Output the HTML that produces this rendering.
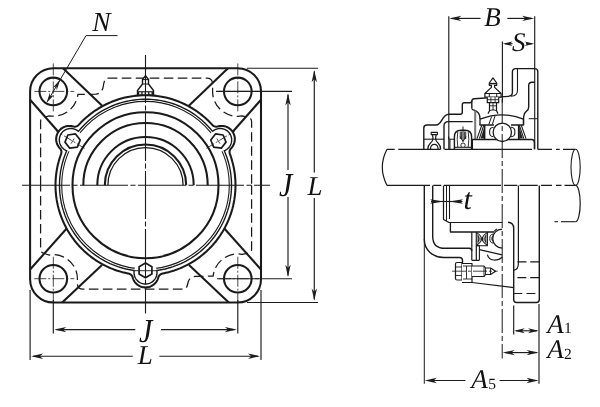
<!DOCTYPE html>
<html><head><meta charset="utf-8"><title>Flange unit drawing</title>
<style>
html,body{margin:0;padding:0;background:#fff;}
body{width:600px;height:407px;overflow:hidden;font-family:"Liberation Serif",serif;}
svg{display:block;will-change:transform;}
text{text-rendering:geometricPrecision;}
</style></head><body>
<svg width="600" height="407" viewBox="0 0 600 407">
<rect x="0" y="0" width="600" height="407" fill="#fff"/>
<rect x="30.1" y="68.2" width="230.9" height="234.3" rx="23.3" ry="23.3" fill="#fff" stroke="#1a1a1a" stroke-width="2.05"/>
<line x1="63" y1="68.2" x2="104" y2="107.5" stroke="#1a1a1a" stroke-width="2.05"/>
<line x1="30.1" y1="99.7" x2="62" y2="136" stroke="#1a1a1a" stroke-width="2.05"/>
<line x1="228" y1="68.2" x2="187" y2="107.5" stroke="#1a1a1a" stroke-width="2.05"/>
<line x1="261" y1="99.7" x2="229" y2="136" stroke="#1a1a1a" stroke-width="2.05"/>
<line x1="30.1" y1="269.5" x2="68" y2="227" stroke="#1a1a1a" stroke-width="2.05"/>
<line x1="62.2" y1="302.5" x2="102" y2="265" stroke="#1a1a1a" stroke-width="2.05"/>
<line x1="261" y1="269.5" x2="223" y2="227" stroke="#1a1a1a" stroke-width="2.05"/>
<line x1="228.8" y1="302.5" x2="189" y2="265" stroke="#1a1a1a" stroke-width="2.05"/>
<path d="M40.6,185.2 V121.5 Q40.6,117.9 44.5,117.3 L48.99,115.82 A24.8,24.8 0 0 0 77.92,94.42 L96,94.2 Q101,93.5 103,88 Q104,81 105,80 Q106,78.1 109,78.1 H207 Q212.4,78.1 212.6,84 V91.4 A24.8,24.8 0 0 0 242.11,115.82 L247.5,117.3 Q251.6,117.9 251.6,121.5 V185.2" fill="none" stroke="#1a1a1a" stroke-width="1.25" stroke-dasharray="9.6 4.4"/>
<path d="M251.6,185.2 V249.3 Q251.6,252.9 247.5,253.3 L242.11,254.28 A24.8,24.8 0 0 0 213.14,276.11 L195,276.4 Q190,277 188.3,281.5 Q187.2,286.6 186.3,287.6 Q185.3,289.2 182,289.2 H83 Q77.6,289.2 77.4,284 V278.7 A24.0,24.0 0 0 0 49.13,255.06 L44.5,253.5 Q40.6,252.9 40.6,249.3 V185.2" fill="none" stroke="#1a1a1a" stroke-width="1.25" stroke-dasharray="9.6 4.4"/>
<circle cx="53.3" cy="91.4" r="13.8" fill="none" stroke="#1a1a1a" stroke-width="2.05"/>
<line x1="33.3" y1="91.4" x2="74.3" y2="91.4" stroke="#1a1a1a" stroke-width="0.8" stroke-dasharray="12 2 2 2" stroke-dashoffset="-1"/>
<line x1="53.3" y1="63.400000000000006" x2="53.3" y2="113.4" stroke="#1a1a1a" stroke-width="0.8" stroke-dasharray="12 2 2 2"/>
<circle cx="53.3" cy="278.7" r="13.8" fill="none" stroke="#1a1a1a" stroke-width="2.05"/>
<line x1="33.3" y1="278.7" x2="74.3" y2="278.7" stroke="#1a1a1a" stroke-width="0.8" stroke-dasharray="12 2 2 2" stroke-dashoffset="-1"/>
<line x1="53.3" y1="256.7" x2="53.3" y2="302.7" stroke="#1a1a1a" stroke-width="0.8" stroke-dasharray="12 2 2 2"/>
<circle cx="237.8" cy="91.4" r="13.8" fill="none" stroke="#1a1a1a" stroke-width="2.05"/>
<line x1="217.8" y1="91.4" x2="258.8" y2="91.4" stroke="#1a1a1a" stroke-width="0.8" stroke-dasharray="12 2 2 2" stroke-dashoffset="-1"/>
<line x1="237.8" y1="63.400000000000006" x2="237.8" y2="113.4" stroke="#1a1a1a" stroke-width="0.8" stroke-dasharray="12 2 2 2"/>
<circle cx="237.8" cy="278.7" r="13.8" fill="none" stroke="#1a1a1a" stroke-width="2.05"/>
<line x1="217.8" y1="278.7" x2="258.8" y2="278.7" stroke="#1a1a1a" stroke-width="0.8" stroke-dasharray="12 2 2 2" stroke-dashoffset="-1"/>
<line x1="237.8" y1="256.7" x2="237.8" y2="302.7" stroke="#1a1a1a" stroke-width="0.8" stroke-dasharray="12 2 2 2"/>
<path d="M145.5,75.8 L148.5,79.5 V84 L153.5,90.5 V94.5 H137.5 V90.5 L142.5,84 V79.5 Z" fill="#fff" stroke="#1a1a1a" stroke-width="1.4" stroke-linejoin="round"/>
<rect x="137.5" y="91.2" width="16" height="4.6" fill="#1a1a1a"/>
<rect x="139.2" y="92.3" width="2.1" height="2.4" fill="#fff"/>
<rect x="142.6" y="92.3" width="2.1" height="2.4" fill="#fff"/>
<rect x="146" y="92.3" width="2.1" height="2.4" fill="#fff"/>
<rect x="149.4" y="92.3" width="2.1" height="2.4" fill="#fff"/>
<line x1="142.5" y1="84" x2="148.5" y2="84" stroke="#1a1a1a" stroke-width="1"/>
<line x1="142.5" y1="79.6" x2="148.5" y2="79.6" stroke="#1a1a1a" stroke-width="1"/>
<path d="M59.95,148.33 L60.42,148.91 L60.81,149.56 L61.11,150.25 L61.32,150.97 L61.42,151.72 L61.42,152.47 L61.31,153.22 L61.11,153.94 L60.29,156.23 L60.26,156.31 L59.39,159.03 L59.36,159.12 L58.58,161.86 L58.56,161.95 L57.86,164.72 L57.84,164.81 L57.24,167.6 L57.22,167.69 L56.71,170.5 L56.7,170.58 L56.28,173.41 L56.26,173.5 L55.94,176.33 L55.93,176.42 L55.7,179.27 L55.69,179.36 L55.55,182.21 L55.55,182.3 L55.5,185.16 L55.5,185.24 L55.55,188.1 L55.55,188.19 L55.69,191.04 L55.7,191.13 L55.93,193.98 L55.94,194.07 L56.26,196.9 L56.28,196.99 L56.7,199.82 L56.71,199.9 L57.22,202.71 L57.24,202.8 L57.84,205.59 L57.86,205.68 L58.56,208.45 L58.58,208.54 L59.36,211.28 L59.39,211.37 L60.26,214.09 L60.29,214.17 L61.25,216.86 L61.29,216.94 L62.33,219.6 L62.37,219.68 L63.5,222.3 L63.54,222.38 L64.76,224.97 L64.8,225.05 L66.11,227.59 L66.15,227.67 L67.54,230.16 L67.58,230.24 L69.05,232.69 L69.1,232.76 L70.64,235.16 L70.69,235.24 L72.32,237.59 L72.37,237.66 L74.07,239.95 L74.13,240.02 L75.9,242.26 L75.96,242.33 L77.81,244.51 L77.86,244.57 L79.78,246.69 L79.84,246.76 L81.83,248.81 L81.89,248.87 L83.94,250.86 L84.01,250.92 L86.13,252.84 L86.19,252.89 L88.37,254.74 L88.44,254.8 L90.68,256.57 L90.75,256.63 L93.04,258.33 L93.11,258.38 L95.46,260.01 L95.54,260.06 L97.94,261.6 L98.01,261.65 L100.46,263.12 L100.54,263.16 L103.03,264.55 L103.11,264.59 L105.65,265.9 L105.73,265.94 L108.32,267.16 L108.4,267.2 L111.02,268.33 L111.1,268.37 L113.76,269.41 L113.84,269.45 L116.53,270.41 L116.61,270.44 L119.33,271.31 L119.42,271.34 L122.16,272.12 L122.25,272.14 L125.02,272.84 L125.11,272.86 L127.9,273.46 L127.99,273.48 L128.41,273.55 L129.07,273.72 L129.72,273.97 L130.32,274.3 L130.89,274.7 L131.39,275.16 L131.84,275.69 L132.21,276.27 L132.51,276.89 L132.73,277.54 L132.78,277.7 L132.97,278.36 L133.03,278.53 L133.27,279.17 L133.34,279.33 L133.62,279.96 L133.7,280.12 L134.03,280.72 L134.12,280.88 L134.48,281.46 L134.58,281.61 L134.98,282.16 L135.08,282.31 L135.52,282.83 L135.64,282.97 L136.1,283.47 L136.23,283.6 L136.73,284.06 L136.87,284.18 L137.39,284.62 L137.54,284.72 L138.09,285.12 L138.24,285.22 L138.82,285.58 L138.98,285.67 L139.58,286 L139.74,286.08 L140.37,286.36 L140.53,286.43 L141.17,286.67 L141.34,286.73 L142,286.92 L142.17,286.97 L142.84,287.13 L143.01,287.16 L143.69,287.27 L143.87,287.3 L144.55,287.36 L144.73,287.37 L145.41,287.4 L145.59,287.4 L146.27,287.37 L146.45,287.36 L147.13,287.3 L147.31,287.27 L147.99,287.16 L148.16,287.13 L148.83,286.97 L149,286.92 L149.66,286.73 L149.83,286.67 L150.47,286.43 L150.63,286.36 L151.26,286.08 L151.42,286 L152.02,285.67 L152.18,285.58 L152.76,285.22 L152.91,285.12 L153.46,284.72 L153.61,284.62 L154.13,284.18 L154.27,284.06 L154.77,283.6 L154.9,283.47 L155.36,282.97 L155.48,282.83 L155.92,282.31 L156.02,282.16 L156.42,281.61 L156.52,281.46 L156.88,280.88 L156.97,280.72 L157.3,280.12 L157.38,279.96 L157.66,279.33 L157.73,279.17 L157.97,278.53 L158.03,278.36 L158.22,277.7 L158.27,277.54 L158.49,276.89 L158.79,276.27 L159.16,275.69 L159.61,275.16 L160.11,274.7 L160.68,274.3 L161.28,273.97 L161.93,273.72 L162.59,273.55 L163.01,273.48 L163.1,273.46 L165.89,272.86 L165.98,272.84 L168.75,272.14 L168.84,272.12 L171.58,271.34 L171.67,271.31 L174.39,270.44 L174.47,270.41 L177.16,269.45 L177.24,269.41 L179.9,268.37 L179.98,268.33 L182.6,267.2 L182.68,267.16 L185.27,265.94 L185.35,265.9 L187.89,264.59 L187.97,264.55 L190.46,263.16 L190.54,263.12 L192.99,261.65 L193.06,261.6 L195.46,260.06 L195.54,260.01 L197.89,258.38 L197.96,258.33 L200.25,256.63 L200.32,256.57 L202.56,254.8 L202.63,254.74 L204.81,252.89 L204.87,252.84 L206.99,250.92 L207.06,250.86 L209.11,248.87 L209.17,248.81 L211.16,246.76 L211.22,246.69 L213.14,244.57 L213.19,244.51 L215.04,242.33 L215.1,242.26 L216.87,240.02 L216.93,239.95 L218.63,237.66 L218.68,237.59 L220.31,235.24 L220.36,235.16 L221.9,232.76 L221.95,232.69 L223.42,230.24 L223.46,230.16 L224.85,227.67 L224.89,227.59 L226.2,225.05 L226.24,224.97 L227.46,222.38 L227.5,222.3 L228.63,219.68 L228.67,219.6 L229.71,216.94 L229.75,216.86 L230.71,214.17 L230.74,214.09 L231.61,211.37 L231.64,211.28 L232.42,208.54 L232.44,208.45 L233.14,205.68 L233.16,205.59 L233.76,202.8 L233.78,202.71 L234.29,199.9 L234.3,199.82 L234.72,196.99 L234.74,196.9 L235.06,194.07 L235.07,193.98 L235.3,191.13 L235.31,191.04 L235.45,188.19 L235.45,188.1 L235.5,185.24 L235.5,185.16 L235.45,182.3 L235.45,182.21 L235.31,179.36 L235.3,179.27 L235.07,176.42 L235.06,176.33 L234.74,173.5 L234.72,173.41 L234.3,170.58 L234.29,170.5 L233.78,167.69 L233.76,167.6 L233.16,164.81 L233.14,164.72 L232.44,161.95 L232.42,161.86 L231.64,159.12 L231.61,159.03 L230.74,156.31 L230.71,156.23 L229.89,153.94 L229.69,153.22 L229.58,152.47 L229.58,151.72 L229.68,150.97 L229.89,150.25 L230.19,149.56 L230.58,148.91 L231.05,148.33 L231.49,147.86 L231.61,147.73 L232.04,147.2 L232.15,147.06 L232.55,146.5 L232.65,146.35 L233.01,145.77 L233.1,145.62 L233.42,145.01 L233.5,144.85 L233.79,144.23 L233.85,144.06 L234.1,143.42 L234.15,143.25 L234.35,142.6 L234.4,142.42 L234.55,141.76 L234.59,141.58 L234.7,140.91 L234.72,140.73 L234.79,140.05 L234.8,139.87 L234.82,139.19 L234.82,139.01 L234.8,138.32 L234.79,138.14 L234.72,137.46 L234.7,137.28 L234.59,136.61 L234.55,136.43 L234.4,135.77 L234.35,135.59 L234.15,134.94 L234.1,134.77 L233.85,134.13 L233.79,133.96 L233.5,133.34 L233.42,133.18 L233.1,132.57 L233.01,132.42 L232.65,131.84 L232.55,131.69 L232.15,131.13 L232.04,130.99 L231.61,130.46 L231.49,130.33 L231.02,129.83 L230.9,129.7 L230.4,129.23 L230.26,129.11 L229.73,128.68 L229.59,128.57 L229.03,128.17 L228.88,128.07 L228.3,127.71 L228.15,127.62 L227.55,127.3 L227.38,127.22 L226.76,126.94 L226.59,126.87 L225.95,126.63 L225.78,126.57 L225.13,126.37 L224.96,126.32 L224.29,126.17 L224.11,126.13 L223.44,126.02 L223.26,126 L222.58,125.93 L222.4,125.92 L221.72,125.9 L221.54,125.9 L220.85,125.92 L220.67,125.93 L219.99,126 L219.82,126.02 L219.14,126.13 L218.96,126.17 L218.3,126.32 L218.12,126.37 L217.93,126.43 L217.26,126.59 L216.58,126.66 L215.89,126.65 L215.2,126.55 L214.54,126.37 L213.9,126.1 L213.31,125.76 L212.75,125.34 L212.26,124.86 L211.22,123.71 L211.16,123.64 L209.17,121.59 L209.11,121.53 L207.06,119.54 L206.99,119.48 L204.87,117.56 L204.81,117.51 L202.63,115.66 L202.56,115.6 L200.32,113.83 L200.25,113.77 L197.96,112.07 L197.89,112.02 L195.54,110.39 L195.46,110.34 L193.06,108.8 L192.99,108.75 L190.54,107.28 L190.46,107.24 L187.97,105.85 L187.89,105.81 L185.35,104.5 L185.27,104.46 L182.68,103.24 L182.6,103.2 L179.98,102.07 L179.9,102.03 L177.24,100.99 L177.16,100.95 L174.47,99.99 L174.39,99.96 L171.67,99.09 L171.58,99.06 L168.84,98.28 L168.75,98.26 L165.98,97.56 L165.89,97.54 L163.1,96.94 L163.01,96.92 L160.2,96.41 L160.12,96.4 L157.29,95.98 L157.2,95.96 L154.37,95.64 L154.28,95.63 L151.43,95.4 L151.34,95.39 L148.49,95.25 L148.4,95.25 L145.54,95.2 L145.46,95.2 L142.6,95.25 L142.51,95.25 L139.66,95.39 L139.57,95.4 L136.72,95.63 L136.63,95.64 L133.8,95.96 L133.71,95.98 L130.88,96.4 L130.8,96.41 L127.99,96.92 L127.9,96.94 L125.11,97.54 L125.02,97.56 L122.25,98.26 L122.16,98.28 L119.42,99.06 L119.33,99.09 L116.61,99.96 L116.53,99.99 L113.84,100.95 L113.76,100.99 L111.1,102.03 L111.02,102.07 L108.4,103.2 L108.32,103.24 L105.73,104.46 L105.65,104.5 L103.11,105.81 L103.03,105.85 L100.54,107.24 L100.46,107.28 L98.01,108.75 L97.94,108.8 L95.54,110.34 L95.46,110.39 L93.11,112.02 L93.04,112.07 L90.75,113.77 L90.68,113.83 L88.44,115.6 L88.37,115.66 L86.19,117.51 L86.13,117.56 L84.01,119.48 L83.94,119.54 L81.89,121.53 L81.83,121.59 L79.84,123.64 L79.78,123.71 L78.74,124.86 L78.25,125.34 L77.69,125.76 L77.1,126.1 L76.46,126.37 L75.8,126.55 L75.11,126.65 L74.42,126.66 L73.74,126.59 L73.07,126.43 L72.88,126.37 L72.7,126.32 L72.04,126.17 L71.86,126.13 L71.18,126.02 L71.01,126 L70.33,125.93 L70.15,125.92 L69.46,125.9 L69.28,125.9 L68.6,125.92 L68.42,125.93 L67.74,126 L67.56,126.02 L66.89,126.13 L66.71,126.17 L66.04,126.32 L65.87,126.37 L65.22,126.57 L65.05,126.63 L64.41,126.87 L64.24,126.94 L63.62,127.22 L63.45,127.3 L62.85,127.62 L62.7,127.71 L62.12,128.07 L61.97,128.17 L61.41,128.57 L61.27,128.68 L60.74,129.11 L60.6,129.23 L60.1,129.7 L59.98,129.83 L59.51,130.33 L59.39,130.46 L58.96,130.99 L58.85,131.13 L58.45,131.69 L58.35,131.84 L57.99,132.42 L57.9,132.57 L57.58,133.18 L57.5,133.34 L57.21,133.96 L57.15,134.13 L56.9,134.77 L56.85,134.94 L56.65,135.59 L56.6,135.77 L56.45,136.43 L56.41,136.61 L56.3,137.28 L56.28,137.46 L56.21,138.14 L56.2,138.32 L56.18,139.01 L56.18,139.19 L56.2,139.87 L56.21,140.05 L56.28,140.73 L56.3,140.91 L56.41,141.58 L56.45,141.76 L56.6,142.42 L56.65,142.6 L56.85,143.25 L56.9,143.42 L57.15,144.06 L57.21,144.23 L57.5,144.85 L57.58,145.01 L57.9,145.62 L57.99,145.77 L58.35,146.35 L58.45,146.5 L58.85,147.06 L58.96,147.2 L59.39,147.73 L59.51,147.86 L59.95,148.33Z" fill="#fff" stroke="#1a1a1a" stroke-width="2.05" stroke-linejoin="round"/>
<circle cx="145.5" cy="185.2" r="83.8" fill="none" stroke="#1a1a1a" stroke-width="1.1"/>
<circle cx="145.5" cy="272.5" r="11.5" fill="#fff"/>
<circle cx="70.83" cy="139.98" r="11.5" fill="#fff"/>
<circle cx="220.17" cy="139.98" r="11.5" fill="#fff"/>
<path d="M78.41,131.33 L77.83,130.85 L77.22,130.41 L76.58,130.02 L75.91,129.66 L75.23,129.35 L74.52,129.09 L73.8,128.87 L73.07,128.7 L72.33,128.57 L71.58,128.5 L70.83,128.48 L70.07,128.5 L69.33,128.57 L68.58,128.7 L67.85,128.87 L67.13,129.09 L66.43,129.35 L65.74,129.66 L65.08,130.02 L64.44,130.41 L63.83,130.85 L63.24,131.33 L62.69,131.84 L62.18,132.39 L61.7,132.98 L61.26,133.59 L60.87,134.23 L60.51,134.89 L60.2,135.58 L59.94,136.28 L59.72,137 L59.55,137.73 L59.43,138.48 L59.35,139.22 L59.33,139.98 L59.35,140.73 L59.43,141.48 L59.55,142.22 L59.72,142.95 L59.94,143.67 L60.2,144.38 L60.51,145.06 L60.87,145.73 L61.26,146.37 L61.7,146.98 L62.18,147.56 L62.69,148.11 L63.24,148.62 L63.83,149.1 L64.44,149.54 L65.08,149.94 L65.74,150.29 L66.43,150.6 L66.73,150.71 L66.05,152.29 L65.01,154.91 L64.06,157.56 L63.2,160.24 L62.43,162.94 L61.75,165.67 L61.15,168.42 L60.65,171.19 L60.24,173.97 L59.91,176.77 L59.68,179.58 L59.55,182.39 L59.5,185.2 L59.55,188.01 L59.68,190.82 L59.91,193.63 L60.24,196.43 L60.65,199.21 L61.15,201.98 L61.75,204.73 L62.43,207.46 L63.2,210.16 L64.06,212.84 L65.01,215.49 L66.05,218.11 L67.17,220.69 L68.37,223.24 L69.65,225.74 L71.02,228.2 L72.47,230.61 L73.99,232.98 L75.6,235.29 L77.27,237.55 L79.02,239.76 L80.84,241.9 L82.73,243.99 L84.69,246.01 L86.71,247.97 L88.8,249.86 L90.94,251.68 L93.15,253.43 L95.41,255.1 L97.72,256.71 L100.09,258.23 L102.5,259.68 L104.96,261.05 L107.46,262.33 L110.01,263.53 L112.59,264.65 L115.21,265.69 L117.86,266.64 L120.54,267.5 L123.24,268.27 L125.97,268.95 L128.72,269.55 L131.49,270.05 L134.19,270.45 L134.1,271 L134.02,271.75 L134,272.5 L134.02,273.25 L134.1,274 L134.22,274.74 L134.39,275.48 L134.61,276.2 L134.88,276.9 L135.19,277.59 L135.54,278.25 L135.94,278.89 L136.38,279.5 L136.85,280.08 L137.37,280.63 L137.92,281.15 L138.5,281.62 L139.11,282.06 L139.75,282.46 L140.41,282.81 L141.1,283.12 L141.8,283.39 L142.52,283.61 L143.26,283.78 L144,283.9 L144.75,283.98 L145.5,284 L146.25,283.98 L147,283.9 L147.74,283.78 L148.48,283.61 L149.2,283.39 L149.9,283.12 L150.59,282.81 L151.25,282.46 L151.89,282.06 L152.5,281.62 L153.08,281.15 L153.63,280.63 L154.15,280.08 L154.62,279.5 L155.06,278.89 L155.46,278.25 L155.81,277.59 L156.12,276.9 L156.39,276.2 L156.61,275.48 L156.78,274.74 L156.9,274 L156.98,273.25 L157,272.5 L156.98,271.75 L156.9,271 L156.81,270.45 L159.51,270.05 L162.28,269.55 L165.03,268.95 L167.76,268.27 L170.46,267.5 L173.14,266.64 L175.79,265.69 L178.41,264.65 L180.99,263.53 L183.54,262.33 L186.04,261.05 L188.5,259.68 L190.91,258.23 L193.28,256.71 L195.59,255.1 L197.85,253.43 L200.06,251.68 L202.2,249.86 L204.29,247.97 L206.31,246.01 L208.27,243.99 L210.16,241.9 L211.98,239.76 L213.73,237.55 L215.4,235.29 L217.01,232.98 L218.53,230.61 L219.98,228.2 L221.35,225.74 L222.63,223.24 L223.83,220.69 L224.95,218.11 L225.99,215.49 L226.94,212.84 L227.8,210.16 L228.57,207.46 L229.25,204.73 L229.85,201.98 L230.35,199.21 L230.76,196.43 L231.09,193.63 L231.32,190.82 L231.45,188.01 L231.5,185.2 L231.45,182.39 L231.32,179.58 L231.09,176.77 L230.76,173.97 L230.35,171.19 L229.85,168.42 L229.25,165.67 L228.57,162.94 L227.8,160.24 L226.94,157.56 L225.99,154.91 L224.95,152.29 L224.27,150.71 L224.57,150.6 L225.26,150.29 L225.92,149.94 L226.56,149.54 L227.17,149.1 L227.76,148.62 L228.31,148.11 L228.82,147.56 L229.3,146.98 L229.74,146.37 L230.13,145.73 L230.49,145.06 L230.8,144.38 L231.06,143.67 L231.28,142.95 L231.45,142.22 L231.57,141.48 L231.65,140.73 L231.67,139.98 L231.65,139.22 L231.57,138.48 L231.45,137.73 L231.28,137 L231.06,136.28 L230.8,135.58 L230.49,134.89 L230.13,134.23 L229.74,133.59 L229.3,132.98 L228.82,132.39 L228.31,131.84 L227.76,131.33 L227.17,130.85 L226.56,130.41 L225.92,130.02 L225.26,129.66 L224.57,129.35 L223.87,129.09 L223.15,128.87 L222.42,128.7 L221.67,128.57 L220.93,128.5 L220.17,128.48 L219.42,128.5 L218.67,128.57 L217.93,128.7 L217.2,128.87 L216.48,129.09 L215.77,129.35 L215.09,129.66 L214.42,130.02 L213.78,130.41 L213.17,130.85 L212.59,131.33 L212.55,131.37 L211.98,130.64 L210.16,128.5 L208.27,126.41 L206.31,124.39 L204.29,122.43 L202.2,120.54 L200.06,118.72 L197.85,116.97 L195.59,115.3 L193.28,113.69 L190.91,112.17 L188.5,110.72 L186.04,109.35 L183.54,108.07 L180.99,106.87 L178.41,105.75 L175.79,104.71 L173.14,103.76 L170.46,102.9 L167.76,102.13 L165.03,101.45 L162.28,100.85 L159.51,100.35 L156.73,99.94 L153.93,99.61 L151.12,99.38 L148.31,99.25 L145.5,99.2 L142.69,99.25 L139.88,99.38 L137.07,99.61 L134.27,99.94 L131.49,100.35 L128.72,100.85 L125.97,101.45 L123.24,102.13 L120.54,102.9 L117.86,103.76 L115.21,104.71 L112.59,105.75 L110.01,106.87 L107.46,108.07 L104.96,109.35 L102.5,110.72 L100.09,112.17 L97.72,113.69 L95.41,115.3 L93.15,116.97 L90.94,118.72 L88.8,120.54 L86.71,122.43 L84.69,124.39 L82.73,126.41 L80.84,128.5 L79.02,130.64 L78.45,131.37 L78.41,131.33Z" fill="none" stroke="#1a1a1a" stroke-width="1.4" stroke-linejoin="round"/>
<circle cx="145.5" cy="185.2" r="73.0" fill="none" stroke="#1a1a1a" stroke-width="2.05"/>
<path d="M83.3,185.2 A62.2,62.2 0 0 1 207.7,185.2" fill="none" stroke="#1a1a1a" stroke-width="2.05"/>
<path d="M97.3,185.2 A48.2,48.2 0 0 1 193.7,185.2" fill="none" stroke="#1a1a1a" stroke-width="2.05"/>
<path d="M104.8,185.2 A40.7,40.7 0 0 1 186.2,185.2" fill="none" stroke="#1a1a1a" stroke-width="2.05"/>
<path d="M107.9,185.2 A37.6,37.6 0 0 1 183.1,185.2" fill="none" stroke="#1a1a1a" stroke-width="1.3"/>
<polygon points="145.5,277.8 139.09,274.1 139.09,266.7 145.5,263 151.91,266.7 151.91,274.1" fill="#fff" stroke="#1a1a1a" stroke-width="1.7" stroke-linejoin="round"/>
<line x1="132.9" y1="270.7" x2="158.1" y2="270.7" stroke="#1a1a1a" stroke-width="0.9"/>
<polygon points="77.36,147.13 69.74,148.2 65,142.14 67.88,135 75.51,133.92 80.25,139.99" fill="#fff" stroke="#1a1a1a" stroke-width="1.7" stroke-linejoin="round"/>
<line x1="84.6" y1="148.32" x2="56.37" y2="131.22" stroke="#1a1a1a" stroke-width="0.8" stroke-dasharray="9 2 2 2"/>
<line x1="71.07" y1="143.63" x2="74.18" y2="138.5" stroke="#1a1a1a" stroke-width="0.8"/>
<polygon points="213.64,147.13 210.75,139.99 215.49,133.92 223.12,135 226,142.14 221.26,148.2" fill="#fff" stroke="#1a1a1a" stroke-width="1.7" stroke-linejoin="round"/>
<line x1="206.4" y1="148.32" x2="234.63" y2="131.22" stroke="#1a1a1a" stroke-width="0.8" stroke-dasharray="9 2 2 2"/>
<line x1="216.82" y1="138.5" x2="219.93" y2="143.63" stroke="#1a1a1a" stroke-width="0.8"/>
<line x1="22" y1="185.2" x2="270" y2="185.2" stroke="#1a1a1a" stroke-width="1.1" stroke-dasharray="48 2.5 5 2.5" stroke-dashoffset="0"/>
<line x1="145.5" y1="55" x2="145.5" y2="313.5" stroke="#1a1a1a" stroke-width="1.1" stroke-dasharray="48 2.5 5 2.5" stroke-dashoffset="0"/>
<line x1="247" y1="68.2" x2="318" y2="68.2" stroke="#1c1c1c" stroke-width="1.15" />
<line x1="216" y1="91.4" x2="292" y2="91.4" stroke="#1c1c1c" stroke-width="1.15" />
<line x1="217" y1="278.7" x2="292" y2="278.7" stroke="#1c1c1c" stroke-width="1.15" />
<line x1="247" y1="302.5" x2="318" y2="302.5" stroke="#1c1c1c" stroke-width="1.15" />
<line x1="288" y1="94.4" x2="288" y2="170" stroke="#1c1c1c" stroke-width="1.15" />
<line x1="288" y1="197" x2="288" y2="275.7" stroke="#1c1c1c" stroke-width="1.15" />
<polygon points="288,93.4 290.7,105.4 288,102.2 285.3,105.4" fill="#1c1c1c"/>
<polygon points="288,276.7 285.3,264.7 288,267.9 290.7,264.7" fill="#1c1c1c"/>
<line x1="314.3" y1="71.2" x2="314.3" y2="172.5" stroke="#1c1c1c" stroke-width="1.15" />
<line x1="314.3" y1="198" x2="314.3" y2="299.5" stroke="#1c1c1c" stroke-width="1.15" />
<polygon points="314.3,70.2 317,82.2 314.3,79 311.6,82.2" fill="#1c1c1c"/>
<polygon points="314.3,300.5 311.6,288.5 314.3,291.7 317,288.5" fill="#1c1c1c"/>
<text x="0" y="0" transform="translate(279 196.3) scale(1 1.12)" font-family="Liberation Serif, serif" font-style="italic" font-size="30" text-anchor="start" fill="#111" >J</text>
<text x="0" y="0" transform="translate(307.5 195.2) scale(1 1.0)" font-family="Liberation Serif, serif" font-style="italic" font-size="27" text-anchor="start" fill="#111" >L</text>
<line x1="30.1" y1="290" x2="30.1" y2="360" stroke="#1c1c1c" stroke-width="1.15" />
<line x1="261" y1="290" x2="261" y2="360" stroke="#1c1c1c" stroke-width="1.15" />
<line x1="53.3" y1="300" x2="53.3" y2="333.5" stroke="#1c1c1c" stroke-width="1.15" />
<line x1="237.8" y1="300" x2="237.8" y2="333.5" stroke="#1c1c1c" stroke-width="1.15" />
<line x1="56.3" y1="329.6" x2="135.3" y2="329.6" stroke="#1c1c1c" stroke-width="1.15" />
<line x1="161" y1="329.6" x2="234.8" y2="329.6" stroke="#1c1c1c" stroke-width="1.15" />
<polygon points="54.3,329.6 66.3,326.9 63.1,329.6 66.3,332.3" fill="#1c1c1c"/>
<polygon points="236.8,329.6 224.8,332.3 228,329.6 224.8,326.9" fill="#1c1c1c"/>
<line x1="33.1" y1="356.2" x2="132.7" y2="356.2" stroke="#1c1c1c" stroke-width="1.15" />
<line x1="159.4" y1="356.2" x2="258" y2="356.2" stroke="#1c1c1c" stroke-width="1.15" />
<polygon points="31.1,356.2 43.1,353.5 39.9,356.2 43.1,358.9" fill="#1c1c1c"/>
<polygon points="260,356.2 248,358.9 251.2,356.2 248,353.5" fill="#1c1c1c"/>
<text x="0" y="0" transform="translate(139 341.9) scale(1 1.12)" font-family="Liberation Serif, serif" font-style="italic" font-size="30" text-anchor="start" fill="#111" >J</text>
<text x="0" y="0" transform="translate(137.8 363.5) scale(1 1.0)" font-family="Liberation Serif, serif" font-style="italic" font-size="27" text-anchor="start" fill="#111" >L</text>
<text x="0" y="0" transform="translate(92.3 31) scale(1 1.0)" font-family="Liberation Serif, serif" font-style="italic" font-size="27.5" text-anchor="start" fill="#111" >N</text>
<line x1="86" y1="35.6" x2="117.5" y2="35.6" stroke="#1c1c1c" stroke-width="1.0" />
<line x1="86" y1="35.6" x2="48.35" y2="99.86" stroke="#1c1c1c" stroke-width="1.0" />
<polygon points="46.32,103.31 49.9,92.65 50.27,96.58 53.87,94.98" fill="#1c1c1c"/>
<polygon points="60.28,79.49 56.7,90.15 56.33,86.22 52.73,87.82" fill="#1c1c1c"/>
<line x1="448.8" y1="16.2" x2="448.8" y2="149.3" stroke="#1c1c1c" stroke-width="1.15" />
<line x1="534.7" y1="16.2" x2="534.7" y2="149.3" stroke="#1c1c1c" stroke-width="1.15" />
<line x1="502.4" y1="41.5" x2="502.4" y2="102.7" stroke="#1c1c1c" stroke-width="1.15" />
<path d="M423.8,149.3 V128 Q423.8,125 427,125 H436 C442.5,125 441.5,114.2 449,114.2 H460.3 Q462.3,114.2 462.3,112.2 V104.7 Q462.3,102.7 464.3,102.7 H469.8 Q471.8,102.7 471.8,101" fill="none" stroke="#1a1a1a" stroke-width="1.4" stroke-linejoin="round" stroke-linecap="butt" />
<path d="M444,149.3 V126 Q444,121.6 448.5,121.6 H472.6" fill="none" stroke="#1a1a1a" stroke-width="1.4" stroke-linejoin="round" stroke-linecap="butt" />
<path d="M423.8,139.2 H444" fill="none" stroke="#1a1a1a" stroke-width="1.1" stroke-linejoin="round" stroke-linecap="butt" />
<path d="M431.2,132.4 H437.4 V134.6 H431.2 Z" fill="#fff" stroke="#1a1a1a" stroke-width="1.1" stroke-linejoin="round" stroke-linecap="butt" />
<path d="M432.4,134.6 L433,138.2 Q433,141 430.5,143 Q427.8,145.5 427.8,149.3 M436.2,134.6 L435.6,138.2 Q435.6,141 438,143 Q440.6,145.5 440.6,149.3" fill="none" stroke="#1a1a1a" stroke-width="1.21" stroke-linejoin="round" stroke-linecap="butt" />
<path d="M430.4,149.3 Q430.6,144.3 434.3,144.3 Q438,144.3 438.2,149.3" fill="none" stroke="#1a1a1a" stroke-width="1.21" stroke-linejoin="round" stroke-linecap="butt" />
<path d="M448.6,136.5 V138 Q448.6,139.3 450.5,139.3 H454.4 M449.9,139.3 V149.3" fill="none" stroke="#1a1a1a" stroke-width="1.1" stroke-linejoin="round" stroke-linecap="butt" />
<path d="M454.4,149.3 V137 Q454.4,130.3 461,130.3 H465 Q471.6,130.3 471.6,137 V149.3" fill="#fff" stroke="#1a1a1a" stroke-width="1.43" stroke-linejoin="round" stroke-linecap="butt" />
<path d="M454.3,147.3 H471.8" fill="none" stroke="#1a1a1a" stroke-width="1.1" stroke-linejoin="round" stroke-linecap="butt" />
<path d="M457.8,131.6 Q456.6,139 457.8,147.3 M468.2,131.6 Q469.4,139 468.2,147.3" fill="none" stroke="#1a1a1a" stroke-width="0.88" stroke-linejoin="round" stroke-linecap="butt" />
<path d="M460.3,131.5 V139" fill="none" stroke="#1a1a1a" stroke-width="0.88" stroke-linejoin="round" stroke-linecap="butt" />
<path d="M461.6,131.5 V139" fill="none" stroke="#1a1a1a" stroke-width="0.88" stroke-linejoin="round" stroke-linecap="butt" />
<path d="M464.4,131.5 V139" fill="none" stroke="#1a1a1a" stroke-width="0.88" stroke-linejoin="round" stroke-linecap="butt" />
<path d="M465.7,131.5 V139" fill="none" stroke="#1a1a1a" stroke-width="0.88" stroke-linejoin="round" stroke-linecap="butt" />
<path d="M463,126.5 V141.5" fill="none" stroke="#1a1a1a" stroke-width="0.99" stroke-linejoin="round" stroke-linecap="butt" />
<path d="M460,136.5 L463,141.5 L466,136.5" fill="none" stroke="#1a1a1a" stroke-width="0.99" stroke-linejoin="round" stroke-linecap="butt" />
<circle cx="463" cy="145.2" r="2.2" fill="#fff" stroke="#1a1a1a" stroke-width="0.9"/>
<path d="M471.8,108.5 V101.3 Q471.8,99 474.3,98.8 L508.3,96.4 Q512.4,96.1 512.4,92.3 V72 Q512.4,68.6 515.8,68.6 H534.8 Q537.8,68.6 537.8,71.6 V149.3" fill="none" stroke="#1a1a1a" stroke-width="1.4" stroke-linejoin="round" stroke-linecap="butt" />
<path d="M517.5,68.6 V90.3 Q517.5,96.2 511,96.3" fill="none" stroke="#1a1a1a" stroke-width="1.1" stroke-linejoin="round" stroke-linecap="butt" />
<path d="M471.8,108.5 Q472,109.8 474.5,110.3 Q479,112 479.7,116 L480,119.2" fill="none" stroke="#1a1a1a" stroke-width="1.4" stroke-linejoin="round" stroke-linecap="butt" />
<path d="M534.7,82.3 H532 Q528.7,82.3 528.7,85.5 V107 Q528.7,110 526.3,111.3 Q523.7,113 523.5,119.2" fill="none" stroke="#1a1a1a" stroke-width="1.4" stroke-linejoin="round" stroke-linecap="butt" />
<path d="M528.7,118.7 H537.8" fill="none" stroke="#1a1a1a" stroke-width="0.99" stroke-linejoin="round" stroke-linecap="butt" />
<line x1="475.2" y1="110.6" x2="475.2" y2="139" stroke="#777" stroke-width="2"/>
<path d="M480,119.2 Q502.3,110.4 523.5,119.2 V125 H511 M493.5,125 H480 Z" fill="none" stroke="#1a1a1a" stroke-width="1.32" stroke-linejoin="round" stroke-linecap="butt" />
<path d="M480,119.2 V125 M523.5,119.2 V125" fill="none" stroke="#1a1a1a" stroke-width="1.32" stroke-linejoin="round" stroke-linecap="butt" />
<path d="M488.8,124.6 L491.6,116.6 M492.3,124.6 L495,116" fill="none" stroke="#1a1a1a" stroke-width="0.99" stroke-linejoin="round" stroke-linecap="butt" />
<path d="M472.3,149.3 V139.5 H531.5 Q534.4,139.5 534.4,142.5 V149.3" fill="#fff" stroke="#1a1a1a" stroke-width="1.43" stroke-linejoin="round" stroke-linecap="butt" />
<path d="M477,138.6 L481.8,125.2 M479.4,138.6 L483.8,125.2" fill="none" stroke="#1a1a1a" stroke-width="1.1" stroke-linejoin="round" stroke-linecap="butt" />
<line x1="484.6" y1="125" x2="484.6" y2="139" stroke="#1a1a1a" stroke-width="1.6"/>
<polygon points="480.6,138.6 484,128 484,138.6" fill="#222"/>
<path d="M526,138.6 L521.3,125.2 M523.8,138.6 L519.4,125.4" fill="none" stroke="#1a1a1a" stroke-width="1.1" stroke-linejoin="round" stroke-linecap="butt" />
<line x1="518.8" y1="125" x2="518.8" y2="139" stroke="#1a1a1a" stroke-width="1.8"/>
<polygon points="522.8,138.6 519.4,127 519.4,138.6" fill="#222"/>
<path d="M493.5,127.3 Q489.3,127.5 489.6,132 Q489.3,136.6 493.5,136.8" fill="none" stroke="#1a1a1a" stroke-width="1.1" stroke-linejoin="round" stroke-linecap="butt" />
<path d="M511,127.3 Q515.2,127.5 514.9,132 Q515.2,136.6 511,136.8" fill="none" stroke="#1a1a1a" stroke-width="1.1" stroke-linejoin="round" stroke-linecap="butt" />
<circle cx="502.3" cy="132.3" r="9.2" fill="#fff" stroke="#1a1a1a" stroke-width="1.3"/>
<path d="M493.0,77.9 L496.7,83 V85.3 H494.6 V87.4 L501.1,93.5 V97.2 H484.9 V93.5 L491.4,87.4 V85.3 H489.3 V83 Z" fill="#fff" stroke="#1a1a1a" stroke-width="1.21" stroke-linejoin="round" stroke-linecap="butt" />
<path d="M489.3,83.6 H496.7" fill="none" stroke="#1a1a1a" stroke-width="1.43" stroke-linejoin="round" stroke-linecap="butt" />
<path d="M484.9,93.5 H501.1 M489.3,93.5 V97.2 M496.7,93.5 V97.2" fill="none" stroke="#1a1a1a" stroke-width="0.99" stroke-linejoin="round" stroke-linecap="butt" />
<path d="M487.3,97.2 V102.7 H498.7 V97.2" fill="#fff" stroke="#1a1a1a" stroke-width="1.21" stroke-linejoin="round" stroke-linecap="butt" />
<path d="M487.3,99.7 H498.7 M490.9,97.2 V102.7 M495.1,97.2 V102.7" fill="none" stroke="#1a1a1a" stroke-width="0.88" stroke-linejoin="round" stroke-linecap="butt" />
<path d="M489.5,102.7 V110.7 L488.0,113.6 M496.5,102.7 V110.7 L498.0,113.6" fill="none" stroke="#1a1a1a" stroke-width="1.21" stroke-linejoin="round" stroke-linecap="butt" />
<path d="M489.5,105.8 H496.5 M493.0,102.7 V110.7 M489.5,110.7 Q493.0,108.6 496.5,110.7" fill="none" stroke="#1a1a1a" stroke-width="0.88" stroke-linejoin="round" stroke-linecap="butt" />
<path d="M387,149.3 Q377.6,167.35000000000002 387,185.4" fill="none" stroke="#1a1a1a" stroke-width="1.21" stroke-linejoin="round" stroke-linecap="butt" />
<path d="M387,149.3 H394.7 M398.3,149.3 H440.7 M444.5,149.3 H532 M537.7,149.3 H552 M556,149.3 H559.7 M563,149.3 H575" fill="none" stroke="#1a1a1a" stroke-width="1.32" stroke-linejoin="round" stroke-linecap="butt" />
<path d="M387,185.4 H430 M433.2,185.4 H441.3 M444,185.4 H501 M504,185.4 H517.3 M519.5,185.4 H537.7 M541,185.4 H552 M556,185.4 H561.5 M564.5,185.4 H575" fill="none" stroke="#1a1a1a" stroke-width="1.32" stroke-linejoin="round" stroke-linecap="butt" />
<ellipse cx="575.6" cy="167.35000000000002" rx="4.6" ry="18.049999999999997" fill="none" stroke="#1a1a1a" stroke-width="1.1"/>
<path d="M575.6,185.4 A4.6,18.14999999999999 0 0 1 575.6,221.7" fill="none" stroke="#1a1a1a" stroke-width="1.21" stroke-linejoin="round" stroke-linecap="butt" />
<line x1="554.5" y1="221.7" x2="558" y2="221.7" stroke="#1a1a1a" stroke-width="1.1" />
<line x1="561" y1="221.7" x2="575.6" y2="221.7" stroke="#1a1a1a" stroke-width="1.1" />
<path d="M424.3,185.4 V239.5 C424.3,250 433,257.5 443.7,257.5 H459.5 Q462.5,257.5 462.5,260.5 V263.5" fill="none" stroke="#1a1a1a" stroke-width="1.4" stroke-linejoin="round" stroke-linecap="butt" />
<path d="M432.7,185.4 V236.4 Q432.7,248.3 445,248.3 H469 Q471.8,248.3 471.8,251" fill="none" stroke="#1a1a1a" stroke-width="1.4" stroke-linejoin="round" stroke-linecap="butt" />
<path d="M443.5,185.4 V219.5 L449,222.5 H502.2" fill="none" stroke="#1a1a1a" stroke-width="1.21" stroke-linejoin="round" stroke-linecap="butt" />
<path d="M446.5,185.4 V221" fill="none" stroke="#1a1a1a" stroke-width="0.99" stroke-linejoin="round" stroke-linecap="butt" />
<path d="M449.5,185.4 V219" fill="none" stroke="#1a1a1a" stroke-width="1.1" stroke-linejoin="round" stroke-linecap="butt" />
<path d="M450.4,222.5 V232 H494" fill="none" stroke="#1a1a1a" stroke-width="1.32" stroke-linejoin="round" stroke-linecap="butt" />
<path d="M471.8,232 V260.3 M476.3,232 V260.3 M471.8,260.3 H479.4" fill="none" stroke="#1a1a1a" stroke-width="1.21" stroke-linejoin="round" stroke-linecap="butt" />
<path d="M476.3,245.7 H479.4 V260.3" fill="none" stroke="#1a1a1a" stroke-width="1.1" stroke-linejoin="round" stroke-linecap="butt" />
<path d="M487.4,232 V245.7 H476.3" fill="none" stroke="#1a1a1a" stroke-width="1.1" stroke-linejoin="round" stroke-linecap="butt" />
<polygon points="476.8,233 481.4,238.9 476.8,244.8" fill="#999"/>
<polygon points="487,233 482.4,238.9 487,244.8" fill="#999"/>
<path d="M476.6,232.6 Q481.8,236 481.4,238.9 Q481.8,241.8 476.6,245.2 M487.2,232.6 Q482,236 482.4,238.9 Q482,241.8 487.2,245.2" fill="none" stroke="#1a1a1a" stroke-width="1.1" stroke-linejoin="round" stroke-linecap="butt" />
<path d="M478,235.3 Q479.8,238.9 478,242.5 M485.8,235.3 Q484,238.9 485.8,242.5" fill="none" stroke="#1a1a1a" stroke-width="0.88" stroke-linejoin="round" stroke-linecap="butt" />
<path d="M493.6,234 Q489.6,234.2 489.8,238.6 Q489.6,243 493.6,243.2 M493.9,235.5 Q491.6,236 491.8,238.6 Q491.6,241.2 493.9,241.7" fill="none" stroke="#1a1a1a" stroke-width="0.99" stroke-linejoin="round" stroke-linecap="butt" />
<path d="M502.2,229.1 A9.5,9.5 0 0 0 502.2,248.1" fill="#fff" stroke="#1a1a1a" stroke-width="1.32" stroke-linejoin="round" stroke-linecap="butt" />
<path d="M494,231.5 Q495.5,229.8 497,229" fill="none" stroke="#1a1a1a" stroke-width="1.1" stroke-linejoin="round" stroke-linecap="butt" />
<path d="M479.4,249.7 L502.2,254.9 M487.4,254.6 Q488.5,259.4 493.5,260 Q499,260.3 502.2,257" fill="none" stroke="#1a1a1a" stroke-width="1.21" stroke-linejoin="round" stroke-linecap="butt" />
<path d="M508,222.3 Q513.7,222.6 513.7,228.5 V299.6 Q513.7,302.5 516.6,302.5 H536.4 Q539.3,302.5 539.3,299.6 V185.4" fill="none" stroke="#1a1a1a" stroke-width="1.4" stroke-linejoin="round" stroke-linecap="butt" />
<path d="M518.4,185.4 V263 Q518.4,269.6 513.7,270.3" fill="none" stroke="#1a1a1a" stroke-width="1.21" stroke-linejoin="round" stroke-linecap="butt" />
<path d="M517.4,261.8 H526.5 M530.2,261.8 H539.2 M517.4,277.7 H526.3 M530.2,277.7 H539.2 M514,293.5 H522.2 M526.5,293.5 H535.4" fill="none" stroke="#1a1a1a" stroke-width="1.21" stroke-linejoin="round" stroke-linecap="butt" />
<path d="M472,282.5 L513.7,287.6" fill="none" stroke="#1a1a1a" stroke-width="1.21" stroke-linejoin="round" stroke-linecap="butt" />
<path d="M457,262.5 H462 V280 H457 Q455.5,280 455.5,278.5 V264 Q455.5,262.5 457,262.5 Z" fill="#fff" stroke="#1a1a1a" stroke-width="1.21" stroke-linejoin="round" stroke-linecap="butt" />
<path d="M455.5,267 H462 M455.5,275.5 H462" fill="none" stroke="#1a1a1a" stroke-width="0.88" stroke-linejoin="round" stroke-linecap="butt" />
<path d="M462,263.5 H472 V282.5 H462" fill="#fff" stroke="#1a1a1a" stroke-width="1.21" stroke-linejoin="round" stroke-linecap="butt" />
<path d="M463,266 H472 M463,279 H472 M466.5,266 V279" fill="none" stroke="#1a1a1a" stroke-width="0.88" stroke-linejoin="round" stroke-linecap="butt" />
<path d="M472,266 H484 L485.5,268 H490.5 L495.6,271.2 L490.5,274.5 H485.5 L484,276.5 H472" fill="#fff" stroke="#1a1a1a" stroke-width="1.21" stroke-linejoin="round" stroke-linecap="butt" />
<path d="M484,266 V276.5 M485.5,268 V274.5 M490.5,268 V274.5" fill="none" stroke="#1a1a1a" stroke-width="0.88" stroke-linejoin="round" stroke-linecap="butt" />
<line x1="452" y1="271.2" x2="497.8" y2="271.2" stroke="#1a1a1a" stroke-width="0.8" stroke-dasharray="14 2 3 2"/>
<line x1="502.2" y1="97" x2="502.2" y2="358.5" stroke="#1a1a1a" stroke-width="1.0" stroke-dasharray="24 3 5 3" stroke-dashoffset="-2"/>
<line x1="451.5" y1="18.4" x2="480.5" y2="18.4" stroke="#1c1c1c" stroke-width="1.15" />
<line x1="507.3" y1="18.4" x2="532" y2="18.4" stroke="#1c1c1c" stroke-width="1.15" />
<polygon points="449.3,18.4 461.3,15.7 458.1,18.4 461.3,21.1" fill="#1c1c1c"/>
<polygon points="534.2,18.4 522.2,21.1 525.4,18.4 522.2,15.7" fill="#1c1c1c"/>
<text x="0" y="0" transform="translate(484.3 25.8) scale(1 1.0)" font-family="Liberation Serif, serif" font-style="italic" font-size="27" text-anchor="start" fill="#111" >B</text>
<line x1="505" y1="43.7" x2="512.5" y2="43.7" stroke="#1c1c1c" stroke-width="1.15" />
<line x1="526" y1="43.7" x2="532" y2="43.7" stroke="#1c1c1c" stroke-width="1.15" />
<polygon points="502.9,43.7 512.4,41.4 509.9,43.7 512.4,46" fill="#1c1c1c"/>
<polygon points="534.2,43.7 524.7,46 527.2,43.7 524.7,41.4" fill="#1c1c1c"/>
<text x="0" y="0" transform="translate(512 51.3) scale(1 1.0)" font-family="Liberation Serif, serif" font-style="italic" font-size="27" text-anchor="start" fill="#111" >S</text>
<line x1="431" y1="201.5" x2="462.5" y2="201.5" stroke="#1c1c1c" stroke-width="1.15" />
<polygon points="443.6,201.5 430.1,203.7 432.6,201.5 430.1,199.3" fill="#1c1c1c"/>
<polygon points="449.4,201.5 462.9,199.3 460.4,201.5 462.9,203.7" fill="#1c1c1c"/>
<text x="0" y="0" transform="translate(463.6 209.3) scale(1 1.0)" font-family="Liberation Serif, serif" font-style="italic" font-size="30" text-anchor="start" fill="#111" >t</text>
<line x1="513.7" y1="305.5" x2="513.7" y2="334.6" stroke="#1c1c1c" stroke-width="1.15" />
<line x1="539" y1="304" x2="539" y2="383.7" stroke="#1c1c1c" stroke-width="1.15" />
<line x1="424.3" y1="239" x2="424.3" y2="383.7" stroke="#1c1c1c" stroke-width="1.0" />
<line x1="516" y1="330.8" x2="537" y2="330.8" stroke="#1c1c1c" stroke-width="1.15" />
<polygon points="514.2,330.8 524.7,328.3 521.9,330.8 524.7,333.3" fill="#1c1c1c"/>
<polygon points="538.6,330.8 528.1,333.3 530.9,330.8 528.1,328.3" fill="#1c1c1c"/>
<text x="0" y="0" transform="translate(547.2 332.5) scale(1 1.0)" font-family="Liberation Serif, serif" font-style="italic" font-size="27" text-anchor="start" fill="#111" >A</text>
<text x="0" y="0" transform="translate(564 332.6) scale(1 1.0)" font-family="Liberation Serif, serif" font-style="normal" font-size="15.5" text-anchor="start" fill="#111" >1</text>
<line x1="505" y1="352.6" x2="537" y2="352.6" stroke="#1c1c1c" stroke-width="1.15" />
<polygon points="502.7,352.6 514.7,349.9 511.5,352.6 514.7,355.3" fill="#1c1c1c"/>
<polygon points="538.6,352.6 526.6,355.3 529.8,352.6 526.6,349.9" fill="#1c1c1c"/>
<text x="0" y="0" transform="translate(547.2 358.4) scale(1 1.0)" font-family="Liberation Serif, serif" font-style="italic" font-size="27" text-anchor="start" fill="#111" >A</text>
<text x="0" y="0" transform="translate(564 358.5) scale(1 1.0)" font-family="Liberation Serif, serif" font-style="normal" font-size="15.5" text-anchor="start" fill="#111" >2</text>
<line x1="427" y1="380.5" x2="465.4" y2="380.5" stroke="#1c1c1c" stroke-width="1.15" />
<line x1="499.6" y1="380.5" x2="536.5" y2="380.5" stroke="#1c1c1c" stroke-width="1.15" />
<polygon points="424.8,380.5 436.8,377.8 433.6,380.5 436.8,383.2" fill="#1c1c1c"/>
<polygon points="538.5,380.5 526.5,383.2 529.7,380.5 526.5,377.8" fill="#1c1c1c"/>
<text x="0" y="0" transform="translate(471.2 388.4) scale(1 1.0)" font-family="Liberation Serif, serif" font-style="italic" font-size="27" text-anchor="start" fill="#111" >A</text>
<text x="0" y="0" transform="translate(488.3 388.5) scale(1 1.0)" font-family="Liberation Serif, serif" font-style="normal" font-size="15.5" text-anchor="start" fill="#111" >5</text>
</svg>
</body></html>
